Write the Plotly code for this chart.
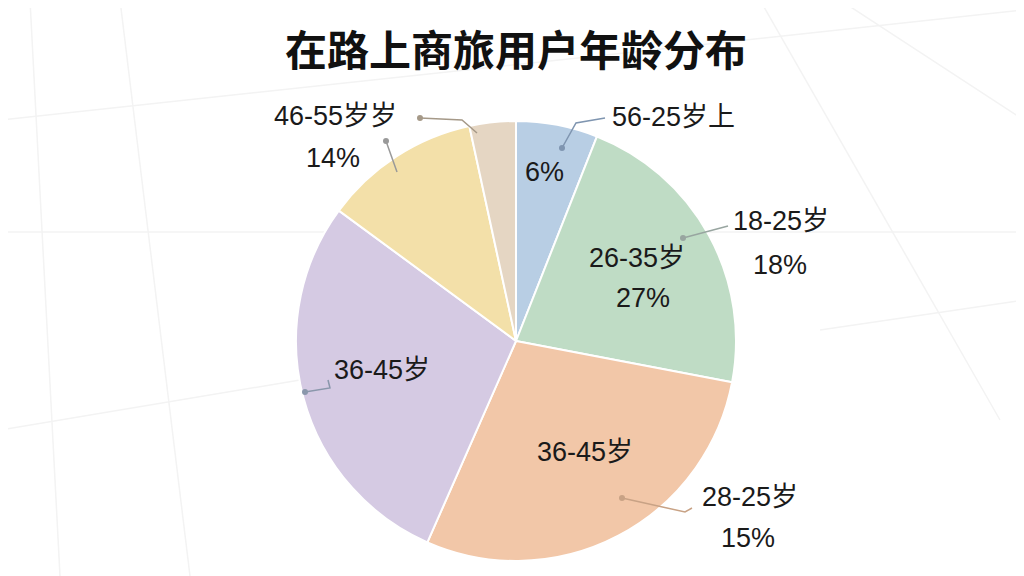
import plotly.graph_objects as go

# Data
segments = ["56岁以上", "26-35岁", "36-45岁(橙)", "36-45岁(紫)", "46-55岁", "其他"]
values = [6.0, 22.0, 28.6, 28.5, 11.5, 3.4]
colors = ["#B8CEE4", "#BFDCC5", "#F2C7A8", "#D5CAE3", "#F3E0A9", "#E5D6C3"]

title_text = "在路上商旅用户年龄分布"

FONT = "Liberation Sans, Noto Sans CJK SC"
TFONT = "Noto Sans CJK SC"
W, H = 1024, 576
OFF = 8  # page body margin

def px(x):
    return (x - OFF) / W

def py(y):
    return 1 - (y - OFF) / H

fig = go.Figure()
fig.add_trace(go.Pie(
    labels=segments,
    values=values,
    sort=False,
    direction="clockwise",
    rotation=0,
    marker=dict(colors=colors, line=dict(color="white", width=2)),
    textinfo="none",
    hoverinfo="label+percent",
    showlegend=False,
    domain=dict(x=[px(292), px(740)], y=[py(561), py(121)]),
))

# text labels as shown in the chart
labels = [
    ("56-25岁上", 673, 117),
    ("6%", 544, 172),
    ("18-25岁", 781, 221),
    ("18%", 780, 265),
    ("26-35岁", 637, 258),
    ("27%", 643, 298),
    ("36-45岁", 382, 370),
    ("36-45岁", 585, 452),
    ("28-25岁", 750, 497),
    ("15%", 748, 538),
    ("46-55岁岁", 335, 116),
    ("14%", 333, 158),
]
annotations = []
for t, x, y in labels:
    annotations.append(dict(
        text=t, x=px(x), y=py(y), xref="paper", yref="paper",
        showarrow=False, xanchor="center", yanchor="middle",
        font=dict(family=FONT, size=27, color="#1a1a1a"),
    ))
annotations.append(dict(
    text="<b>" + title_text + "</b>", x=px(516), y=py(48), xref="paper", yref="paper",
    showarrow=False, xanchor="center", yanchor="middle",
    font=dict(family=TFONT, size=42, color="#111111"),
))

shapes = []
# faint background sketch lines
bg = [
    (0, 232, 1024, 232), (120, 0, 190, 576), (0, 430, 300, 380),
    (760, 0, 1000, 420), (840, 0, 1024, 120), (820, 330, 1024, 300),
    (30, 0, 60, 576), (0, 120, 1024, 10),
]
for x0, y0, x1, y1 in bg:
    shapes.append(dict(type="line", xref="paper", yref="paper",
                       x0=px(x0), y0=py(y0), x1=px(x1), y1=py(y1),
                       line=dict(color="#f3f3f3", width=1.5), layer="below"))

# leader lines
leaders = [
    ([(562, 148), (576, 123), (605, 118)], "#7f95b0"),
    ([(683, 238), (728, 226)], "#98a5a0"),
    ([(622, 498), (685, 512), (692, 508)], "#c8a285"),
    ([(386, 141), (397, 172)], "#999999"),
    ([(420, 118), (462, 120), (477, 133)], "#a59988"),
    ([(305, 392), (330, 388), (328, 380)], "#8a97ab"),
]
for pts, c in leaders:
    path = "M " + " L ".join(f"{px(x)},{py(y)}" for x, y in pts)
    shapes.append(dict(type="path", xref="paper", yref="paper", path=path,
                       line=dict(color=c, width=1.5)))
    x, y = pts[0]
    shapes.append(dict(type="circle", xref="paper", yref="paper",
                       x0=px(x - 3), x1=px(x + 3), y0=py(y + 3), y1=py(y - 3),
                       fillcolor=c, line=dict(width=0)))

fig.update_layout(
    width=W, height=H,
    margin=dict(l=0, r=0, t=0, b=0),
    paper_bgcolor="white",
    plot_bgcolor="white",
    annotations=annotations,
    shapes=shapes,
)

fig.write_html("out.html")
